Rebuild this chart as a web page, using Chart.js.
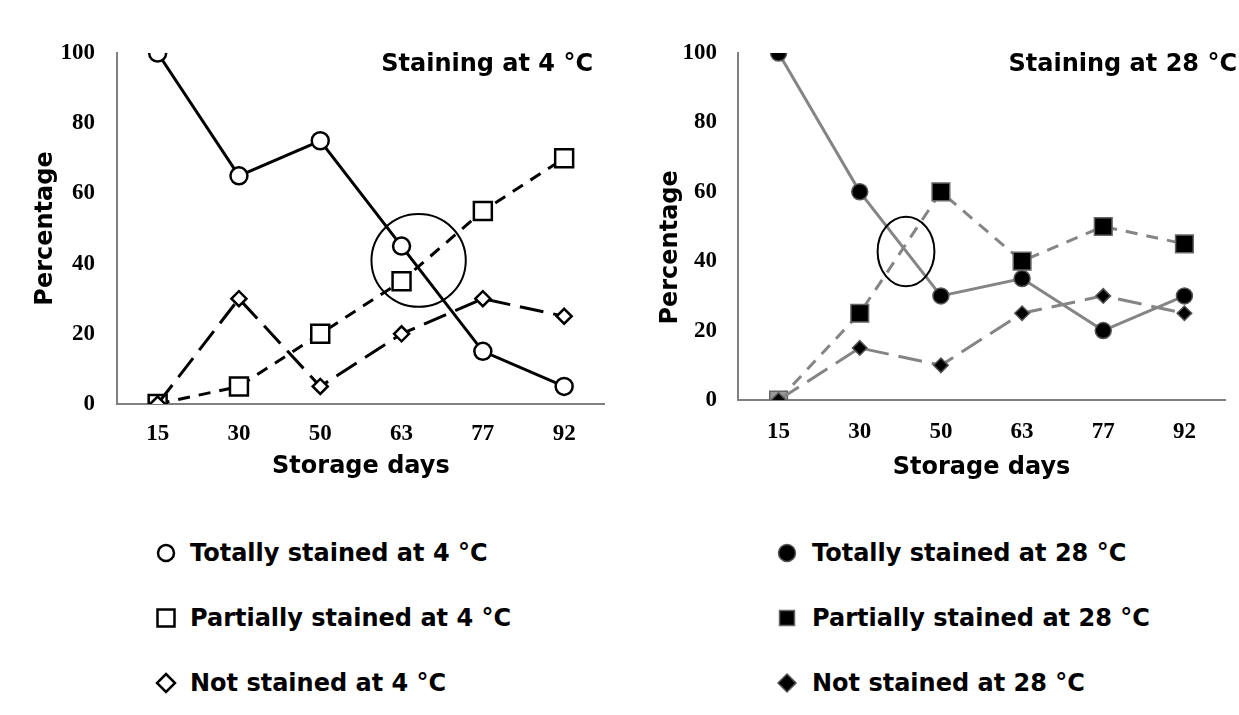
<!DOCTYPE html>
<html>
<head>
<meta charset="utf-8">
<script src="https://cdn.jsdelivr.net/npm/chart.js@4.4.1/dist/chart.umd.min.js"></script>
<style>
  body { margin: 0; background: #fff; width: 1239px; height: 715px; overflow: hidden; position: relative; }
  .panel { position: absolute; top: 0; }
  .legend-row {
    position: absolute; height: 30px; display: flex; align-items: center;
    font-family: "DejaVu Sans", sans-serif; font-weight: bold; font-size: 24px;
    white-space: nowrap; color: #000;
  }
  .legend-row canvas { position: absolute; }
</style>
</head>
<body>
<canvas id="chart4" class="panel" width="620" height="500" style="left:0"></canvas>
<canvas id="chart28" class="panel" width="619" height="500" style="left:620px"></canvas>
<div id="legends"></div>
<script>
// ---- data ----
const storageDays = ['15', '30', '50', '63', '77', '92'];
const yTicks = [0, 20, 40, 60, 80, 100];

const seriesNames4 = ['Totally stained at 4 °C', 'Partially stained at 4 °C', 'Not stained at 4 °C'];
const totally4   = [100, 65, 75, 45, 15, 5];
const partially4 = [0, 5, 20, 35, 55, 70];
const notStained4 = [0, 30, 5, 20, 30, 25];

const seriesNames28 = ['Totally stained at 28 °C', 'Partially stained at 28 °C', 'Not stained at 28 °C'];
const totally28   = [100, 60, 30, 35, 20, 30];
const partially28 = [0, 25, 60, 40, 50, 45];
const notStained28 = [0, 15, 10, 25, 30, 25];

// circled crossing points (category index / percentage units)
const crossing4 = { x: 3.21, y: 40.9, rx: 0.58, ry: 13.2 };
const crossing28 = { x: 1.57, y: 42.8, rx: 0.35, ry: 10 };

const tickFont = { family: 'Liberation Serif', size: 23, weight: 'bold' };
const titleFont = { family: 'DejaVu Sans', size: 24, weight: 'bold' };

// marker + line styles for the two panels
const styles4 = [
  { pointStyle: 'circle', pointRadius: 8.5, bg: '#fff', border: '#000', borderWidth: 2.5, line: '#000', dash: [] },
  { pointStyle: 'rect', pointRadius: 12.7, bg: '#fff', border: '#000', borderWidth: 2.5, line: '#000', dash: [12, 9] },
  { pointStyle: 'rectRot', pointRadius: 7.5, bg: '#fff', border: '#000', borderWidth: 2.5, line: '#000', dash: [24, 10] }
];
const styles28 = [
  { pointStyle: 'circle', pointRadius: 8, bg: '#000', border: '#555', borderWidth: 1.5, line: '#858585', dash: [] },
  { pointStyle: 'rect', pointRadius: 12.5, bg: '#000', border: '#666', borderWidth: 1.5, line: '#858585', dash: [12, 9] },
  { pointStyle: 'rectRot', pointRadius: 7.3, bg: '#000', border: '#555', borderWidth: 1.5, line: '#858585', dash: [24, 10] }
];

// draws the circle annotation and the panel heading
const panelDecor = {
  id: 'panelDecor',
  afterDatasetsDraw(chart, args, opts) {
    const { ctx, scales: { x, y } } = chart;
    const c = opts.circle;
    const cx = x.getPixelForValue(c.x);
    const cy = y.getPixelForValue(c.y);
    const rx = Math.abs(x.getPixelForValue(c.x + c.rx) - cx);
    const ry = Math.abs(y.getPixelForValue(c.y + c.ry) - cy);
    ctx.save();
    ctx.beginPath();
    ctx.ellipse(cx, cy, rx, ry, 0, 0, Math.PI * 2);
    ctx.lineWidth = 2;
    ctx.strokeStyle = '#000';
    ctx.stroke();
    ctx.font = 'bold 24px "DejaVu Sans"';
    ctx.fillStyle = '#000';
    ctx.textAlign = 'right';
    ctx.textBaseline = 'middle';
    ctx.fillText(opts.title, opts.titleRight, 65);
    ctx.restore();
  }
};

function makeDatasets(names, values, styles, firstPointBg) {
  return values.map((data, i) => {
    const s = styles[i];
    return {
      label: names[i],
      data: data,
      borderColor: s.line,
      borderWidth: 3,
      borderDash: s.dash,
      tension: 0,
      pointStyle: s.pointStyle,
      pointRadius: s.pointRadius,
      pointBackgroundColor: (i === 1 && firstPointBg) ? (c => c.dataIndex === 0 ? firstPointBg : s.bg) : s.bg,
      pointBorderColor: s.border,
      pointBorderWidth: s.borderWidth,
      order: 2 - i
    };
  });
}

function makeChart(id, datasets, opt) {
  return new Chart(document.getElementById(id), {
    type: 'line',
    data: { labels: storageDays, datasets: datasets },
    plugins: [panelDecor],
    options: {
      responsive: false,
      animation: false,
      layout: { padding: { top: 53, right: opt.padRight, left: 0, bottom: 0 } },
      plugins: {
        legend: { display: false },
        tooltip: { enabled: false },
        panelDecor: { circle: opt.circle, title: opt.title, titleRight: opt.titleRight }
      },
      scales: {
        x: {
          offset: true,
          grid: { display: false, drawTicks: false },
          border: { display: true, color: '#808080', width: 2 },
          ticks: { color: '#000', font: tickFont, padding: opt.xTickPad, maxRotation: 0 },
          title: { display: true, text: 'Storage days', color: '#000', font: titleFont, padding: { top: 0, bottom: opt.xTitlePad } },
          afterFit: s => { s.height = opt.xHeight; }
        },
        y: {
          min: 0,
          max: 100,
          afterBuildTicks: s => { s.ticks = yTicks.map(v => ({ value: v })); },
          grid: { display: false, drawTicks: false },
          border: { display: true, color: '#808080', width: 2 },
          ticks: { color: '#000', font: tickFont, padding: opt.yTickPad },
          // trailing spaces nudge the rotated title down where the original sits lower
          title: { display: true, text: 'Percentage' + opt.yTitleTail, color: '#000', font: titleFont, padding: { top: opt.yTitlePad, bottom: 0 } },
          afterFit: s => { s.width = opt.yWidth; }
        }
      }
    }
  });
}

makeChart('chart4', makeDatasets(seriesNames4, [totally4, partially4, notStained4], styles4), {
  padRight: 7, xHeight: 96, yWidth: 117, xTickPad: 16, yTickPad: 22, xTitlePad: 19, yTitlePad: 31, yTitleTail: '',
  circle: crossing4, title: 'Staining at 4 °C', titleRight: 593
});
makeChart('chart28', makeDatasets(seriesNames28, [totally28, partially28, notStained28], styles28, '#999'), {
  padRight: 6, xHeight: 100, yWidth: 118, xTickPad: 18, yTickPad: 21, xTitlePad: 18, yTitlePad: 36, yTitleTail: '\u00A0\u00A0\u00A0\u00A0\u00A0',
  circle: crossing28, title: 'Staining at 28 °C', titleRight: 617
});

// ---- HTML legends ----
function drawMarker(ctx, s, r, cx, cy) {
  ctx.fillStyle = s.bg;
  ctx.strokeStyle = s.border;
  ctx.lineWidth = s.borderWidth;
  ctx.beginPath();
  if (s.pointStyle === 'circle') {
    ctx.arc(cx, cy, r, 0, Math.PI * 2);
  } else if (s.pointStyle === 'rect') {
    ctx.rect(cx - r, cy - r, 2 * r, 2 * r);
  } else {
    ctx.moveTo(cx, cy - r); ctx.lineTo(cx + r, cy); ctx.lineTo(cx, cy + r); ctx.lineTo(cx - r, cy); ctx.closePath();
  }
  ctx.fill();
  ctx.stroke();
}

function buildLegend(names, styles, markerX, textX, sizes) {
  const rowsY = [553, 618, 683];
  names.forEach((name, i) => {
    const row = document.createElement('div');
    row.className = 'legend-row';
    row.style.left = textX + 'px';
    row.style.top = (rowsY[i] - 15) + 'px';
    row.textContent = name;
    const c = document.createElement('canvas');
    c.width = 26; c.height = 26;
    c.style.left = (markerX - textX - 13) + 'px';
    c.style.top = '2px';
    row.appendChild(c);
    drawMarker(c.getContext('2d'), styles[i], sizes[i], 13, 13);
    document.getElementById('legends').appendChild(row);
  });
}
buildLegend(seriesNames4, styles4, 166, 190, [8, 8.5, 9]);
buildLegend(seriesNames28, styles28, 787, 812, [8.5, 7.5, 9]);
</script>
</body>
</html>
